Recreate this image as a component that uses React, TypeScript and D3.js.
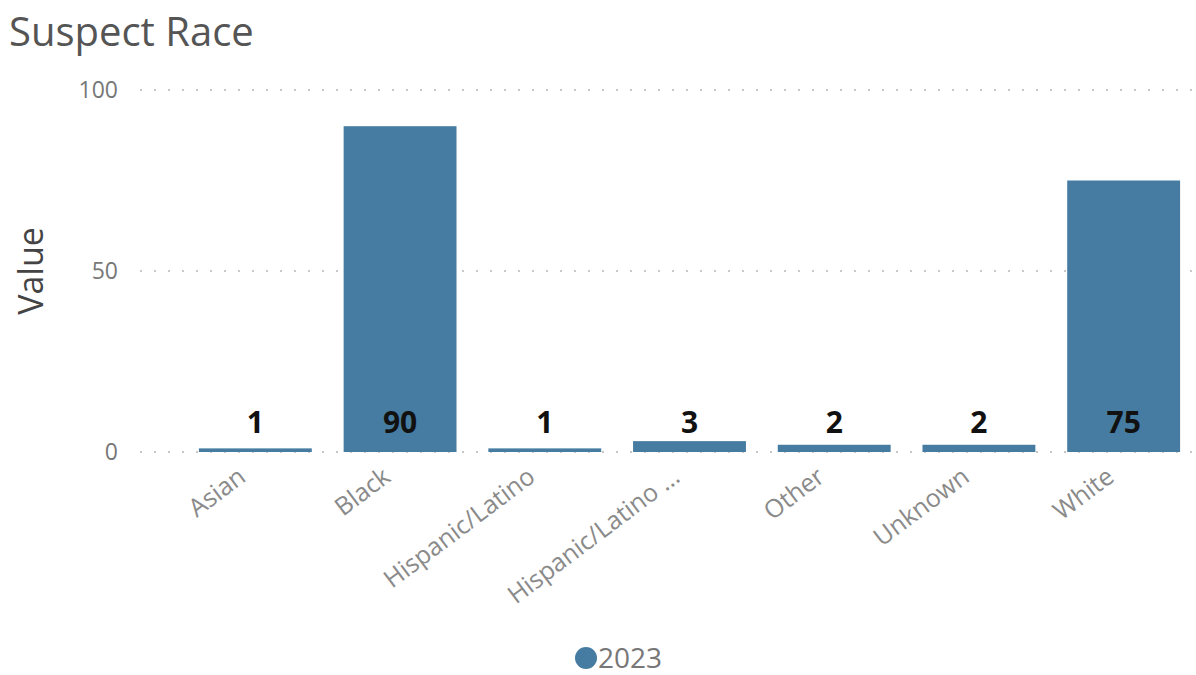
import React from "react";
import * as d3 from "d3";

const categories = ["Asian", "Black", "Hispanic/Latino", "Hispanic/Latino ...", "Other", "Unknown", "White"];
const values2023 = [1, 90, 1, 3, 2, 2, 75];
const yTicks = [0, 50, 100];
const seriesName = "2023";

const W = 1196;
const H = 675;
const BAR = "#467ca1";
const FONT = "'Open Sans', 'Segoe UI', sans-serif";

export default function App() {
  const x = d3.scaleBand<string>().domain(categories).range([183, 1196]).paddingInner(0.22).paddingOuter(0.11);
  const y = d3.scaleLinear().domain([0, 100]).range([452, 90]);

  return (
    <svg width={W} height={H} style={{ position: "absolute", left: 0, top: 0, background: "#fff" }} fontFamily={FONT}>
      <text x={9} y={46} fontSize={40} fill="#555">Suspect Race</text>

      {yTicks.map((t) => (
        <g key={t}>
          <line x1={140} x2={1196} y1={y(t)} y2={y(t)} stroke="#c8c8c8" strokeWidth={2} strokeDasharray="2,12" />
          <text x={118} y={y(t)} dy="0.36em" textAnchor="end" fontSize={23} fill="#777">{t}</text>
        </g>
      ))}

      <text transform={`translate(43,${y(50)}) rotate(-90)`} textAnchor="middle" fontSize={34} fill="#444">Value</text>

      {categories.map((c, i) => (
        <rect key={c} x={x(c)} y={y(values2023[i])} width={x.bandwidth()} height={y(0) - y(values2023[i])} fill={BAR} />
      ))}

      {categories.map((c, i) => (
        <text key={c} x={(x(c) as number) + x.bandwidth() / 2} y={433} textAnchor="middle" fontSize={30} fontWeight="bold" fill="#111">
          {values2023[i]}
        </text>
      ))}

      {categories.map((c) => (
        <text
          key={c}
          transform={`translate(${(x(c) as number) + x.bandwidth() / 2 - 8},${480}) rotate(-37)`}
          textAnchor="end"
          fontSize={25}
          fill="#8a8a8a"
        >
          {c}
        </text>
      ))}

      <circle cx={586} cy={658} r={11} fill={BAR} />
      <text x={598} y={668} fontSize={28} fill="#777">{seriesName}</text>
    </svg>
  );
}
